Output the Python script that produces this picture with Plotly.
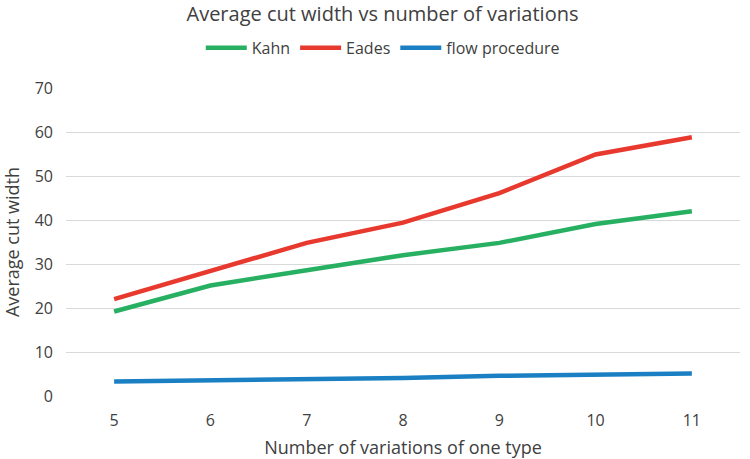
import plotly.graph_objects as go

# average cut width per number of variations of one type
variations = [5, 6, 7, 8, 9, 10, 11]
kahn = [19.2, 25.1, 28.6, 32.0, 34.8, 39.1, 42.0]
eades = [22.0, 28.5, 34.8, 39.4, 46.1, 54.9, 58.8]
flow = [3.3, 3.5, 3.8, 4.1, 4.6, 4.9, 5.1]

fig = go.Figure()
fig.add_trace(go.Scatter(x=variations, y=kahn, name="Kahn", mode="lines",
                         line=dict(color="#28b062", width=4.5)))
fig.add_trace(go.Scatter(x=variations, y=eades, name="Eades", mode="lines",
                         line=dict(color="#e8392f", width=4.5)))
fig.add_trace(go.Scatter(x=variations, y=flow, name="flow procedure", mode="lines",
                         line=dict(color="#1b80c3", width=4.5)))

fig.update_layout(
    width=750, height=459,
    margin=dict(l=66, r=10, t=88, b=63, autoexpand=False),
    paper_bgcolor="white", plot_bgcolor="white",
    font=dict(family="Open Sans", color="#404040", size=15),
    title=dict(text="Average cut width vs number of variations", x=0.51, xanchor="center",
               y=0.97, yanchor="middle", font=dict(size=20, color="#404040")),
    legend=dict(orientation="h", x=0.47, xanchor="center", y=1.13, yanchor="middle",
                font=dict(size=16), itemwidth=41, traceorder="normal"),
    xaxis=dict(range=[4.5, 11.5], dtick=1, tickvals=variations, showgrid=False,
               zeroline=False, showline=False, ticks="", automargin=False,
               ticklabelstandoff=13,
               title=dict(text="Number of variations of one type", font=dict(size=18), standoff=12),
               tickfont=dict(size=16)),
    yaxis=dict(range=[0, 70], dtick=10, showgrid=True, gridcolor="#d9d9d9", gridwidth=1,
               zeroline=False, showline=False, ticks="", automargin=False,
               ticklabelstandoff=12,
               title=dict(text="Average cut width", font=dict(size=18), standoff=15),
               tickfont=dict(size=16)),
)

# drop the page's default body margin so the figure sits at the window corner
fig.write_html("out.html", config={"displayModeBar": False},
               post_script="document.body.style.margin='0';")
